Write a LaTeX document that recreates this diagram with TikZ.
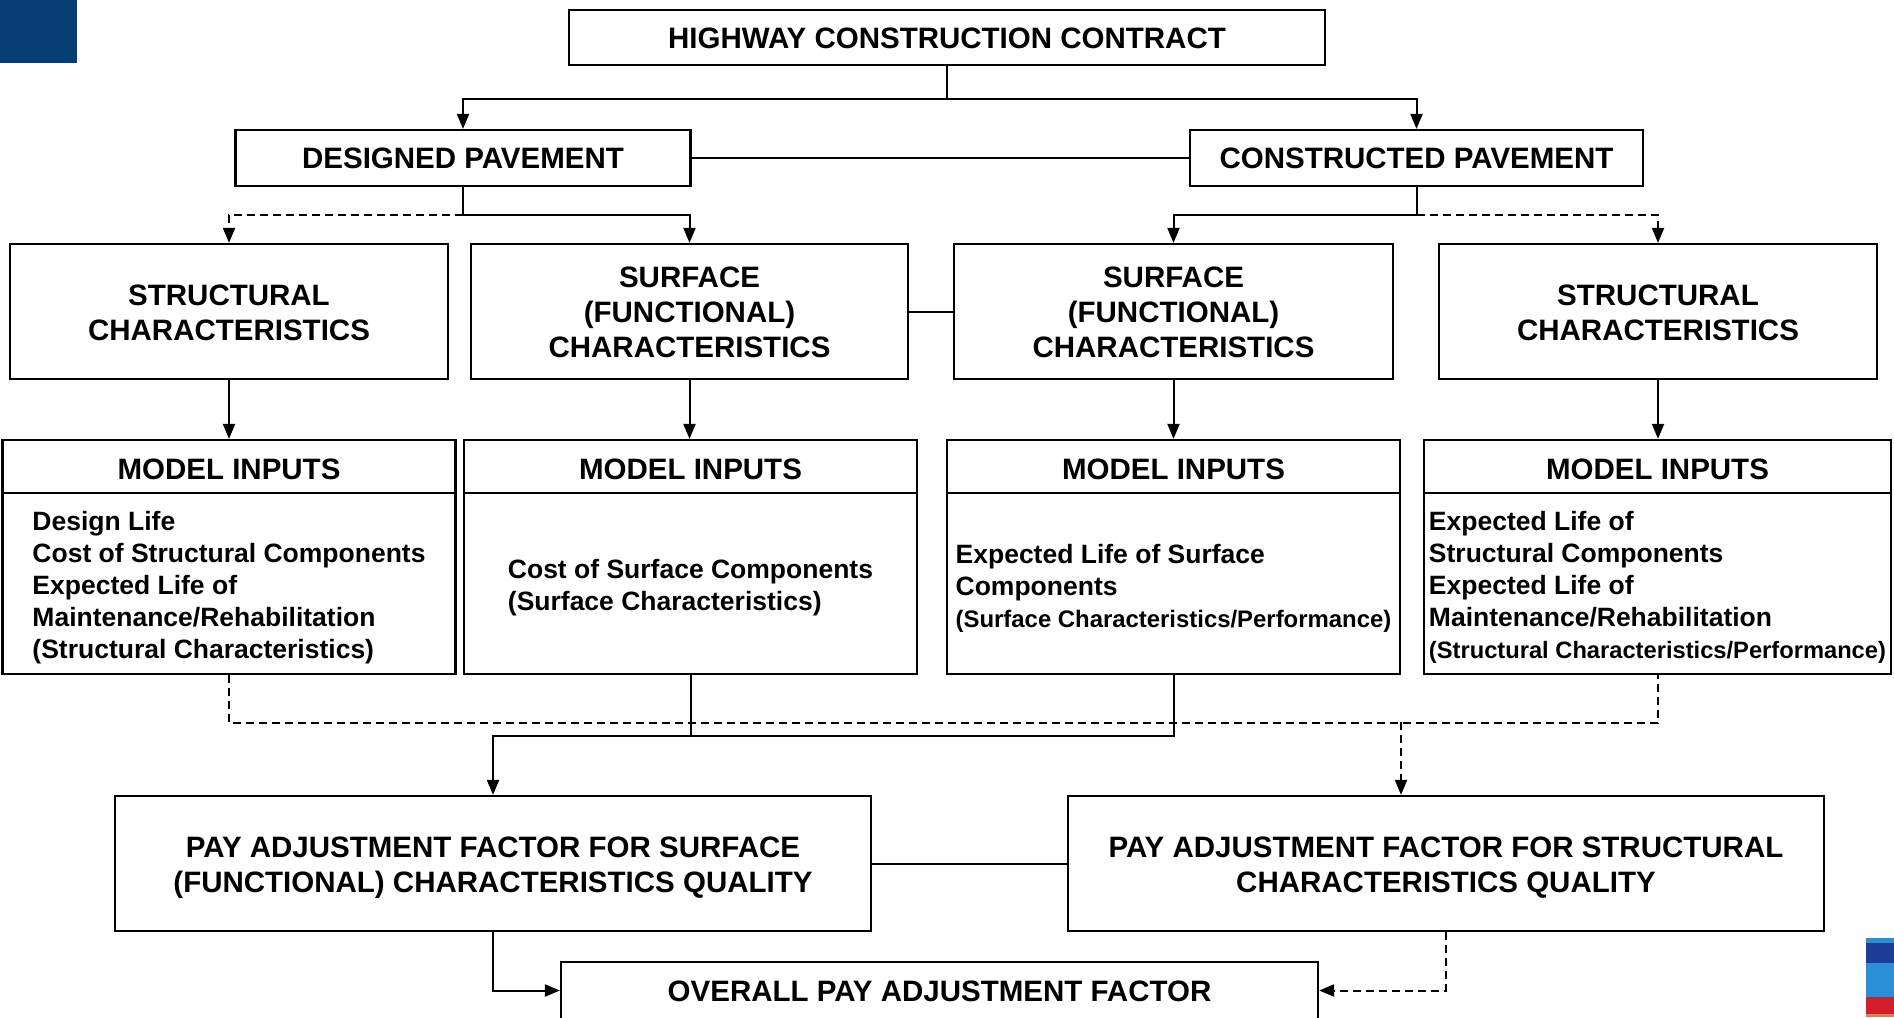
\documentclass[tikz,border=0pt]{standalone}
\usepackage{fontspec}
\setmainfont{Liberation Sans}
\usetikzlibrary{arrows.meta}
\definecolor{topblue}{HTML}{063E73}
\definecolor{barlight}{HTML}{2B8FD6}
\definecolor{bardark}{HTML}{1F3D96}
\definecolor{barred}{HTML}{D61E2A}
\definecolor{bartan}{HTML}{C98A5A}
\begin{document}
\begin{tikzpicture}[x=1pt,y=-1pt,
  box/.style={draw, line width=2.2pt, inner sep=0pt, align=center,
    font=\fontsize{29.5}{35}\selectfont\bfseries, text height=21pt, text depth=0pt},
  lines2/.style={text height=57pt, text depth=0pt},
  lines3/.style={text height=91pt, text depth=0pt},
  body/.style={draw, line width=2.2pt, inner sep=0pt, align=left,
    font=\fontsize{26.5}{32}\selectfont\bfseries, text depth=0pt},
  conn/.style={line width=2pt},
  arr/.style={conn, -{Triangle[length=15pt,width=12pt]}},
  dsh/.style={dash pattern=on 8pt off 5pt}]
\useasboundingbox (0,0) rectangle (1894,1017);
\clip (0,0) rectangle (1894,1017);
\fill[white] (0,0) rectangle (1894,1017);
% decorations
\fill[topblue] (0,0) rectangle (77,63);
\fill[barlight] (1866,938) rectangle (1894,943);
\fill[bardark] (1866,943) rectangle (1894,963);
\fill[barlight] (1866,963) rectangle (1894,997);
\fill[barred] (1866,997) rectangle (1894,1014);
\fill[bartan] (1866,1014) rectangle (1894,1017);

% nodes
\node[box, minimum width=756pt, minimum height=55pt] (hcc) at (947,37.5) {HIGHWAY CONSTRUCTION CONTRACT};
\node[box, minimum width=455pt, minimum height=56pt] (dp) at (463,158) {DESIGNED PAVEMENT};
\node[box, minimum width=453pt, minimum height=56pt] (cp) at (1416.5,158) {CONSTRUCTED PAVEMENT};

\node[box, lines2, minimum width=438pt, minimum height=135pt] (s1) at (229,311.5) {STRUCTURAL\\CHARACTERISTICS};
\node[box, lines3, minimum width=437pt, minimum height=135pt] (f1) at (689.5,311.5) {SURFACE\\(FUNCTIONAL)\\CHARACTERISTICS};
\node[box, lines3, minimum width=439pt, minimum height=135pt] (f2) at (1173.5,311.5) {SURFACE\\(FUNCTIONAL)\\CHARACTERISTICS};
\node[box, lines2, minimum width=438pt, minimum height=135pt] (s2) at (1658,311.5) {STRUCTURAL\\CHARACTERISTICS};

\node[box, text height=25pt, minimum width=453pt, minimum height=53pt] (mh1) at (229,466.5) {MODEL INPUTS};
\node[box, text height=25pt, minimum width=453pt, minimum height=53pt] (mh2) at (690.5,466.5) {MODEL INPUTS};
\node[box, text height=25pt, minimum width=453pt, minimum height=53pt] (mh3) at (1173.5,466.5) {MODEL INPUTS};
\node[box, text height=25pt, minimum width=467pt, minimum height=53pt] (mh4) at (1657.5,466.5) {MODEL INPUTS};

\node[body, text height=149pt, minimum width=453pt, minimum height=181pt] (mb1) at (229,583.5)
  {Design Life\\Cost of Structural Components\\Expected Life of\\Maintenance/Rehabilitation\\(Structural Characteristics)};
\node[body, text height=53pt, minimum width=453pt, minimum height=181pt] (mb2) at (690.5,583.5)
  {Cost of Surface Components\\(Surface Characteristics)};
\node[body, text height=88pt, minimum width=453pt, minimum height=181pt] (mb3) at (1173.5,583.5)
  {Expected Life of Surface\\Components\\{\fontsize{23.9}{32}\selectfont (Surface Characteristics/Performance)}};
\node[body, text height=149pt, minimum width=467pt, minimum height=181pt] (mb4) at (1657.5,583.5)
  {Expected Life of\\Structural Components\\Expected Life of\\Maintenance/Rehabilitation\\{\fontsize{23.7}{32}\selectfont (Structural Characteristics/Performance)}};

\node[box, lines2, minimum width=756pt, minimum height=135pt] (paf1) at (493,863.5) {PAY ADJUSTMENT FACTOR FOR SURFACE\\(FUNCTIONAL) CHARACTERISTICS QUALITY};
\node[box, lines2, minimum width=756pt, minimum height=135pt] (paf2) at (1446,863.5) {PAY ADJUSTMENT FACTOR FOR STRUCTURAL\\CHARACTERISTICS QUALITY};
\node[box, minimum width=757pt, minimum height=57pt] (opf) at (939.5,990.5) {OVERALL PAY ADJUSTMENT FACTOR};

% connectors
\draw[arr] (hcc.south) -- ++(0,32.5) -| (dp.north);
\draw[arr] (hcc.south) -- ++(0,32.5) -| (cp.north);
\draw[conn] (dp.east) -- (cp.west);

\draw[arr] (dp.south) -- ++(0,28) coordinate (dpj) -| (f1.north);
\draw[arr,dsh] (dpj) -| (s1.north);
\draw[arr] (cp.south) -- ++(0,28) coordinate (cpj) -| (f2.north);
\draw[arr,dsh] (cpj) -| (s2.north);
\draw[conn] (f1.east) -- (f2.west);

\draw[arr] (s1.south) -- (s1.south |- mh1.north);
\draw[arr] (f1.south) -- (f1.south |- mh2.north);
\draw[arr] (f2.south) -- (f2.south |- mh3.north);
\draw[arr] (s2.south) -- (s2.south |- mh4.north);

\draw[conn,dsh] (mb1.south) -- ++(0,48) -| (mb4.south);
\draw[conn] (mb2.south) -- ++(0,61) coordinate (sj) -| (mb3.south);
\draw[arr] (sj) -| (paf1.north);
\coordinate (dj) at (1401,722);
\draw[arr,dsh] (dj) -- (dj |- paf2.north);
\draw[conn] (paf1.east) -- (paf2.west);

\draw[arr] (paf1.south) |- (opf.west);
\draw[arr,dsh] (paf2.south) |- (opf.east);
\end{tikzpicture}
\end{document}
